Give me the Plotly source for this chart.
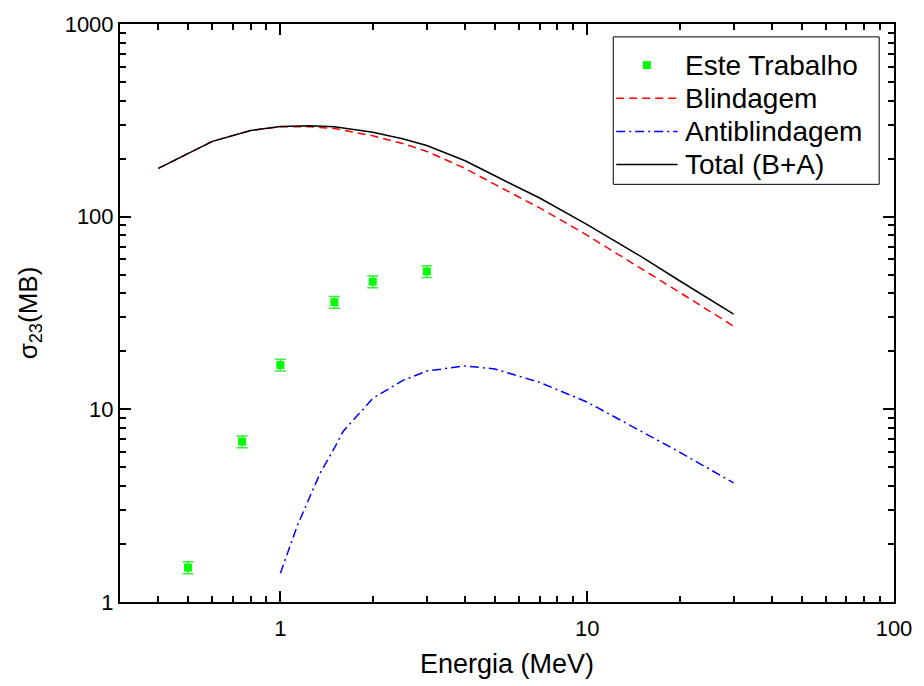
import plotly.graph_objects as go

# Experimental cross sections (this work)
exp_energy = [0.5, 0.75, 1.0, 1.5, 2.0, 3.0]
exp_sigma = [1.51, 6.8, 17.0, 36.0, 46.0, 52.0]
exp_err = [0.11, 0.48, 1.2, 2.5, 3.2, 3.6]

# Theoretical curves
th_energy = [0.4, 0.6, 0.8, 1.0, 1.25, 1.5, 2.0, 2.5, 3.0, 4.0, 5.0, 7.0, 10.0, 15.0, 20.0, 30.0]
blindagem = [178, 246, 280, 293, 292.5, 287, 263, 240, 218, 178, 147, 111, 80, 54, 40.5, 27.0]
total_ba = [178, 246, 280, 294, 296, 293, 274, 254, 234, 195, 163, 125, 91, 62, 46.5, 31.2]

anti_energy = [1.0, 1.135, 1.25, 1.35, 1.5, 1.6, 2.0, 2.5, 3.0, 4.0, 5.0, 7.0, 10.0, 15.0, 20.0, 30.0]
antiblindagem = [1.41, 2.49, 3.55, 4.69, 6.3, 7.67, 11.4, 14.1, 15.8, 16.8, 16.2, 13.8, 10.9, 7.7, 6.0, 4.15]

FONT = "Arial, Liberation Sans, sans-serif"

# Plot-area geometry in pixels (figure is 924 x 686)
FIG_W, FIG_H = 924, 686
M_L, M_R, M_T, M_B = 120, 21, 20, 82
PX0, PX1 = M_L, FIG_W - M_R
PY0, PY1 = M_T, FIG_H - M_B


def px(x):
    return (x - PX0) / (PX1 - PX0)


def py(y):
    return (PY1 - y) / (PY1 - PY0)


RED_DASH = "8px,5px"
BLUE_DASHDOT = "9px,4px,2px,4px"

styles = {
    "Este Trabalho": dict(kind="marker", color="#00ff00"),
    "Blindagem": dict(kind="line", color="#ff0000", dash=RED_DASH),
    "Antiblindagem": dict(kind="line", color="#0000ff", dash=BLUE_DASHDOT),
    "Total (B+A)": dict(kind="line", color="#000000", dash="solid"),
}

fig = go.Figure()

fig.add_trace(go.Scatter(
    x=exp_energy, y=exp_sigma, mode="markers", name="Este Trabalho",
    marker=dict(symbol="square", size=8, color=styles["Este Trabalho"]["color"]),
    error_y=dict(type="data", array=exp_err, visible=True, color="#3aee3a",
                 thickness=1.5, width=5.5),
))
fig.add_trace(go.Scatter(
    x=th_energy, y=blindagem, mode="lines", name="Blindagem",
    line=dict(color=styles["Blindagem"]["color"], width=1.5, dash=RED_DASH),
))
fig.add_trace(go.Scatter(
    x=anti_energy, y=antiblindagem, mode="lines", name="Antiblindagem",
    line=dict(color=styles["Antiblindagem"]["color"], width=1.5, dash=BLUE_DASHDOT),
))
fig.add_trace(go.Scatter(
    x=th_energy, y=total_ba, mode="lines", name="Total (B+A)",
    line=dict(color=styles["Total (B+A)"]["color"], width=1.5),
))

axis_common = dict(
    type="log", showgrid=False, zeroline=False,
    showline=True, linecolor="black", linewidth=2, mirror="allticks",
    ticks="inside", ticklen=11, tickwidth=2, tickcolor="black",
    minor=dict(ticks="inside", ticklen=6, tickwidth=2, tickcolor="black", dtick="D1"),
    tickfont=dict(family=FONT, size=22, color="black"),
    dtick=1,
)

fig.update_xaxes(
    **axis_common,
    range=[-0.5229, 2],
    ticklabelstandoff=6,
    title=dict(text="Energia (MeV)", font=dict(family=FONT, size=27, color="black"), standoff=14),
)
fig.update_yaxes(
    **axis_common,
    range=[0, 3],
    title=dict(text="σ<sub>23</sub>(MB)", font=dict(family=FONT, size=26, color="black"), standoff=20),
)

# Legend box drawn in the upper-right corner of the plot area
shapes = [dict(
    type="rect", xref="paper", yref="paper",
    x0=px(619), x1=px(888), y0=py(182), y1=py(33),
    line=dict(color="black", width=1), fillcolor="white", layer="above",
)]
annotations = []
row_y = [61.5, 95, 128.5, 162]
for name, yy in zip(styles, row_y):
    st = styles[name]
    if st["kind"] == "marker":
        shapes.append(dict(
            type="rect", xref="paper", yref="paper",
            x0=px(649), x1=px(657), y0=py(yy + 4), y1=py(yy - 4),
            line=dict(width=0), fillcolor=st["color"], layer="above",
        ))
    else:
        shapes.append(dict(
            type="line", xref="paper", yref="paper",
            x0=px(622), x1=px(684), y0=py(yy), y1=py(yy),
            line=dict(color=st["color"], width=1.5, dash=st["dash"]), layer="above",
        ))
    annotations.append(dict(
        text=name, xref="paper", yref="paper", x=px(690), y=py(yy),
        xanchor="left", yanchor="middle", showarrow=False,
        font=dict(family=FONT, size=28, color="black"),
    ))

fig.update_layout(
    width=FIG_W, height=FIG_H,
    margin=dict(l=M_L, r=M_R, t=M_T, b=M_B),
    plot_bgcolor="white", paper_bgcolor="white",
    font=dict(family=FONT, color="black"),
    showlegend=False,
    shapes=shapes,
    annotations=annotations,
)

fig.write_html("out.html")
